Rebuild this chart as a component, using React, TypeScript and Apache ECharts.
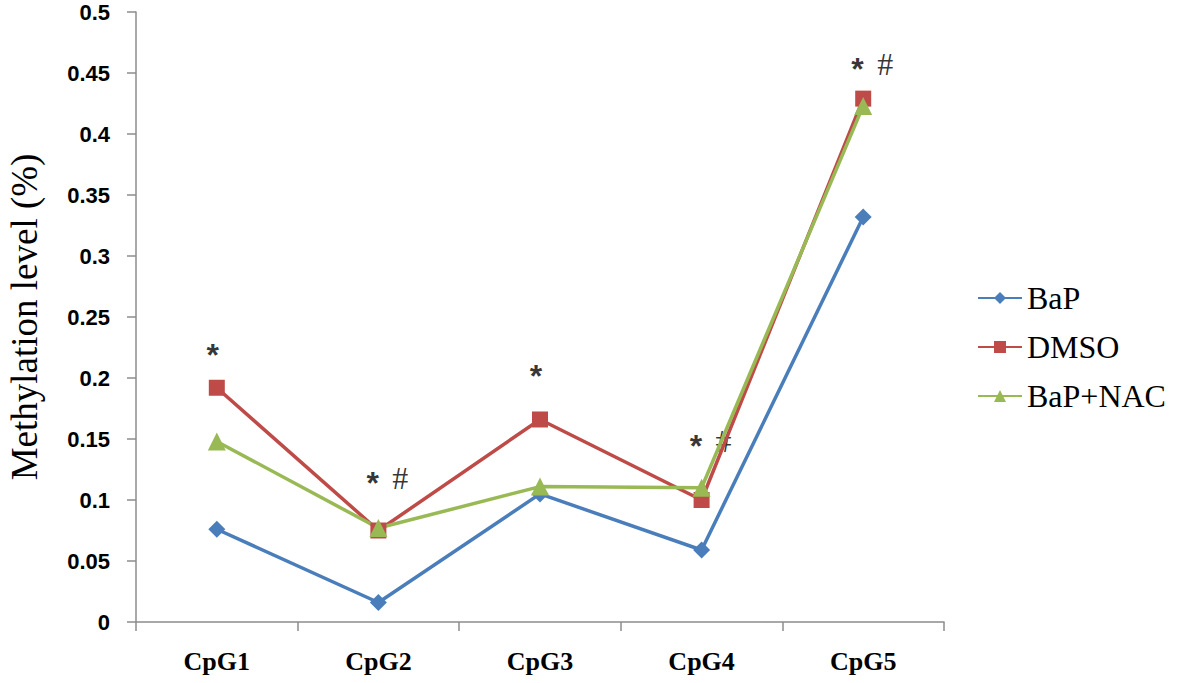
import React, { useEffect, useRef } from "react";
import * as echarts from "echarts";

const categories = ["CpG1", "CpG2", "CpG3", "CpG4", "CpG5"];
const bap = [0.076, 0.016, 0.105, 0.059, 0.332];
const dmso = [0.192, 0.075, 0.166, 0.1, 0.429];
const bapNac = [0.148, 0.077, 0.111, 0.11, 0.423];
const annotationTexts = ["*", "* #", "*", "* #", "* #"];
const annotationValues = [0.223, 0.118, 0.206, 0.148, 0.457];

const BLUE = "#4a7ebb";
const RED = "#be4b48";
const GREEN = "#98b954";

export default function App() {
  const ref = useRef<HTMLDivElement>(null);
  useEffect(() => {
    if (!ref.current) return;
    const chart = echarts.init(ref.current, null, { renderer: "svg" });
    const richLabel = (t: string) =>
      t
        .split(" ")
        .map((p) => (p === "*" ? "{s|*}" : "{h|#}"))
        .join("{g| }");
    chart.setOption({
      animation: false,
      backgroundColor: "#ffffff",
      grid: {
        left: 136,
        right: 237,
        top: 12,
        bottom: 61,
        containLabel: false,
        outerBoundsMode: "none",
      },
      legend: {
        orient: "vertical",
        left: 972,
        top: 276,
        itemWidth: 44,
        itemHeight: 15,
        itemGap: 15,
        textStyle: { fontFamily: "Liberation Serif", fontSize: 32, lineHeight: 34, color: "#000" },
        data: ["BaP", "DMSO", "BaP+NAC"],
      },
      xAxis: {
        type: "category",
        data: categories,
        boundaryGap: true,
        axisLine: { lineStyle: { color: "#8c8c8c", width: 1.5 } },
        axisTick: { show: true, length: 9, lineStyle: { color: "#8c8c8c", width: 1.5 } },
        axisLabel: {
          fontFamily: "Liberation Serif",
          fontWeight: "bold",
          fontSize: 26,
          color: "#000",
          margin: 26,
        },
      },
      yAxis: {
        type: "value",
        min: 0,
        max: 0.5,
        interval: 0.05,
        name: "Methylation level (%)",
        nameLocation: "middle",
        nameGap: 94,
        nameTextStyle: { fontFamily: "Liberation Serif", fontSize: 37, lineHeight: 36, color: "#000" },
        splitLine: { show: false },
        axisLine: { show: true, lineStyle: { color: "#8c8c8c", width: 1.5 } },
        axisTick: { show: true, length: 9, lineStyle: { color: "#8c8c8c", width: 1.5 } },
        axisLabel: {
          fontFamily: "Liberation Sans",
          fontWeight: "bold",
          fontSize: 22,
          lineHeight: 16,
          color: "#000",
          margin: 26,
        },
      },
      series: [
        {
          name: "BaP",
          type: "line",
          data: bap,
          symbol: "diamond",
          symbolSize: 17,
          itemStyle: { color: BLUE },
          lineStyle: { color: BLUE, width: 3.5 },
        },
        {
          name: "DMSO",
          type: "line",
          data: dmso,
          symbol: "rect",
          symbolSize: 16,
          itemStyle: { color: RED },
          lineStyle: { color: RED, width: 3.5 },
        },
        {
          name: "BaP+NAC",
          type: "line",
          data: bapNac,
          symbol: "triangle",
          symbolSize: 18,
          itemStyle: { color: GREEN },
          lineStyle: { color: GREEN, width: 3.5 },
        },
        {
          name: "annotations",
          type: "scatter",
          data: annotationValues.map((v, i) => ({
            value: v,
            label: {
              formatter: richLabel(annotationTexts[i]),
              offset: annotationTexts[i] === "*" ? [-4, 0] : [9, 0],
            },
          })),
          symbolSize: 0,
          silent: true,
          itemStyle: { color: "transparent" },
          label: {
            show: true,
            position: "inside",
            color: "#000",
            rich: {
              s: {
                fontFamily: "Liberation Sans",
                fontWeight: "bold",
                fontSize: 32,
                color: "#000",
                padding: [10, 0, 0, 0],
              },
              h: { fontFamily: "Liberation Serif", fontSize: 32, color: "#000" },
              g: { fontFamily: "Liberation Serif", fontSize: 22, padding: [0, 4, 0, 4] },
            },
          },
        },
      ],
    });
    return () => chart.dispose();
  }, []);
  return (
    <div
      ref={ref}
      style={{ position: "fixed", left: 0, top: 0, width: 1181, height: 683, background: "#fff" }}
    />
  );
}
